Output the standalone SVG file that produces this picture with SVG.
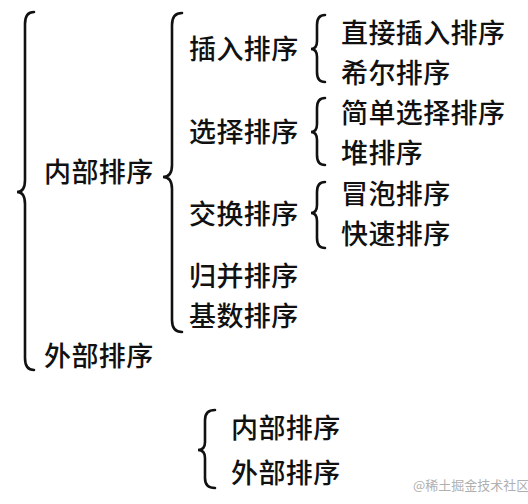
<svg xmlns="http://www.w3.org/2000/svg" width="528" height="504" viewBox="0 0 528 504">
<style>
.t{font-family:"Noto Sans CJK SC","Noto Sans",sans-serif;font-size:27px;letter-spacing:0.4px;font-weight:500;fill:#111}
.b{fill:none;stroke:#111;stroke-width:2.6;stroke-linecap:round}
.w{font-family:"Noto Sans CJK SC","Noto Sans",sans-serif;font-size:13px;fill:#b0b0b0}
</style>
<rect width="528" height="504" fill="#fff"/>
<g id="connectors">
<path class="b" d="M34 12 Q25 12 25 24 L25 180 Q25 192 17 192 Q25 192 25 204 L25 358 Q25 370 34 370"/>
<path class="b" d="M182 13 Q172 13 172 25 L172 165 Q172 177 163 177 Q172 177 172 189 L172 320 Q172 332 182 332"/>
<path class="b" d="M325 15 Q317 15 317 25 L317 41 Q317 49 311 49 Q317 49 317 57 L317 72 Q317 82 325 82"/>
<path class="b" d="M325 98 Q317 98 317 108 L317 124 Q317 132 311 132 Q317 132 317 140 L317 155 Q317 165 325 165"/>
<path class="b" d="M325 182 Q317 182 317 192 L317 205 Q317 213 311 213 Q317 213 317 221 L317 238 Q317 248 325 248"/>
<path class="b" d="M215 410 Q205 410 205 420 L205 442 Q205 450 198 450 Q205 450 205 458 L205 478 Q205 488 215 488"/>
</g>
<g id="n-root-internal"><text class="t" x="44" y="182">内部排序</text></g>
<g id="n-root-external"><text class="t" x="44" y="366">外部排序</text></g>
<g id="n-insert"><text class="t" x="189" y="59">插入排序</text></g>
<g id="n-select"><text class="t" x="189" y="142">选择排序</text></g>
<g id="n-swap"><text class="t" x="189" y="224">交换排序</text></g>
<g id="n-merge"><text class="t" x="189" y="286">归并排序</text></g>
<g id="n-radix"><text class="t" x="189" y="326">基数排序</text></g>
<g id="n-direct"><text class="t" x="341" y="43">直接插入排序</text></g>
<g id="n-shell"><text class="t" x="341" y="83">希尔排序</text></g>
<g id="n-simple"><text class="t" x="341" y="123">简单选择排序</text></g>
<g id="n-heap"><text class="t" x="341" y="163">堆排序</text></g>
<g id="n-bubble"><text class="t" x="341" y="204">冒泡排序</text></g>
<g id="n-quick"><text class="t" x="341" y="244">快速排序</text></g>
<g id="n-b-internal"><text class="t" x="231" y="438">内部排序</text></g>
<g id="n-b-external"><text class="t" x="231" y="483">外部排序</text></g>
<text class="w" x="413" y="490">@稀土掘金技术社区</text>
</svg>
